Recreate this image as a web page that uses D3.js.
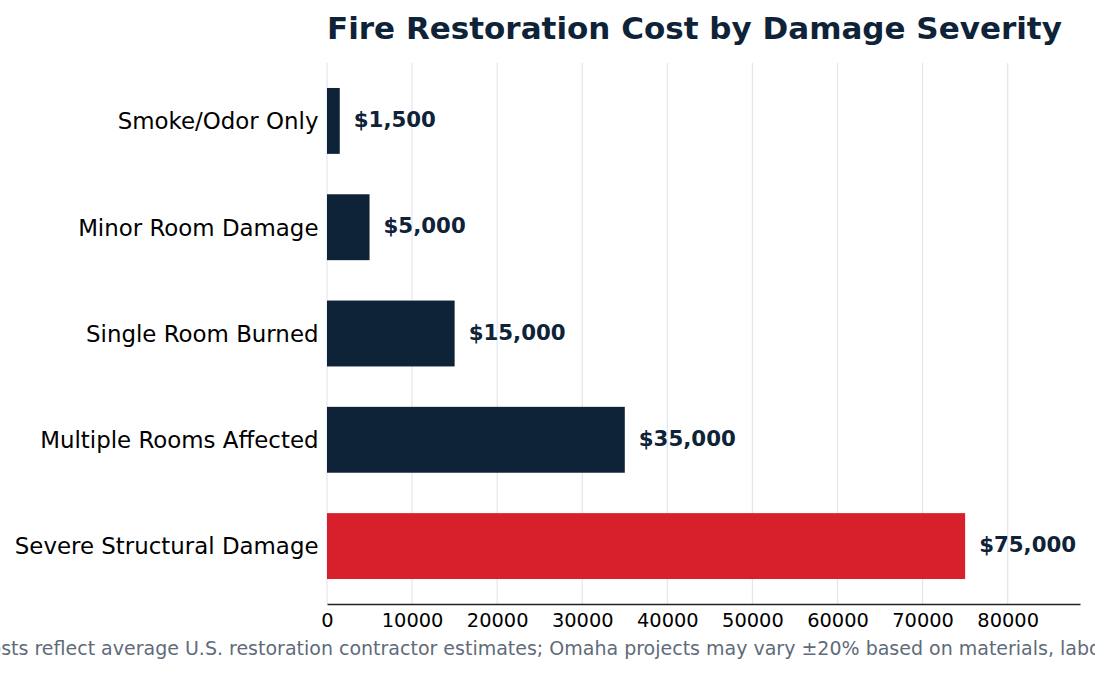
<!DOCTYPE html>
<html>
<head>
<meta charset="utf-8">
<script src="https://cdn.jsdelivr.net/npm/d3@7"></script>
<style>
  html, body { margin: 0; padding: 0; background: #ffffff; }
  svg { display: block; font-family: "DejaVu Sans", sans-serif; }
</style>
</head>
<body>
<svg id="chart" width="1095" height="674"></svg>
<script>
const categories = ["Smoke/Odor Only", "Minor Room Damage", "Single Room Burned", "Multiple Rooms Affected", "Severe Structural Damage"];
const costs = [1500, 5000, 15000, 35000, 75000];
const xTicks = [0, 10000, 20000, 30000, 40000, 50000, 60000, 70000, 80000];
const titleText = "Fire Restoration Cost by Damage Severity";
const footnoteText = "Costs reflect average U.S. restoration contractor estimates; Omaha projects may vary ±20% based on materials, labor.";

const W = 1095, H = 674;
const margin = { top: 63, right: 15, bottom: 70, left: 327 };
const navy = "#0f2338", red = "#d7202b";

const svg = d3.select("#chart");
const data = categories.map((c, i) => ({ category: c, cost: costs[i] }));

const x = d3.scaleLinear().domain([0, 88500]).range([margin.left, W - margin.right]);
const y = d3.scaleBand().domain(categories).range([margin.top, H - margin.bottom])
  .paddingInner(0.38).paddingOuter(0.235);

// gridlines
svg.append("g").selectAll("line").data(xTicks).join("line")
  .attr("x1", d => x(d)).attr("x2", d => x(d))
  .attr("y1", margin.top).attr("y2", H - margin.bottom)
  .attr("stroke", "#e3e6ee").attr("stroke-width", 1.2);

// bars
svg.append("g").selectAll("rect").data(data).join("rect")
  .attr("x", x(0))
  .attr("y", d => y(d.category))
  .attr("width", d => x(d.cost) - x(0))
  .attr("height", y.bandwidth())
  .attr("fill", d => d.cost === d3.max(costs) ? red : navy);

// value labels
svg.append("g").selectAll("text").data(data).join("text")
  .attr("x", d => x(d.cost) + 14)
  .attr("y", d => y(d.category) + y.bandwidth() / 2 + 6)
  .attr("fill", navy)
  .attr("font-weight", "bold")
  .attr("font-size", "21.3px")
  .text(d => "$" + d3.format(",")(d.cost));

// category labels
svg.append("g").selectAll("text").data(data).join("text")
  .attr("x", margin.left - 8.5)
  .attr("y", d => y(d.category) + y.bandwidth() / 2 + 8.3)
  .attr("text-anchor", "end")
  .attr("fill", "#000")
  .attr("font-size", "22.9px")
  .text(d => d.category);

// x axis
const xAxis = d3.axisBottom(x).tickValues(xTicks).tickFormat(d3.format("d"))
  .tickSize(0).tickSizeOuter(0).tickPadding(9);
const gx = svg.append("g").attr("transform", `translate(0,${H - margin.bottom})`).call(xAxis);
gx.select(".domain").attr("stroke", "#222").attr("stroke-width", 1.6);
gx.selectAll(".tick text").attr("font-size", "19.4px").attr("fill", "#000")
  .attr("font-family", "DejaVu Sans, sans-serif");

// title
svg.append("text")
  .attr("x", margin.left).attr("y", 39)
  .attr("fill", navy).attr("font-weight", "bold").attr("font-size", "31px")
  .text(titleText);

// footnote
svg.append("text")
  .attr("x", W / 2 - 3).attr("y", 655)
  .attr("text-anchor", "middle")
  .attr("fill", "#5f6b7a").attr("font-size", "19px")
  .text(footnoteText);
</script>
</body>
</html>
